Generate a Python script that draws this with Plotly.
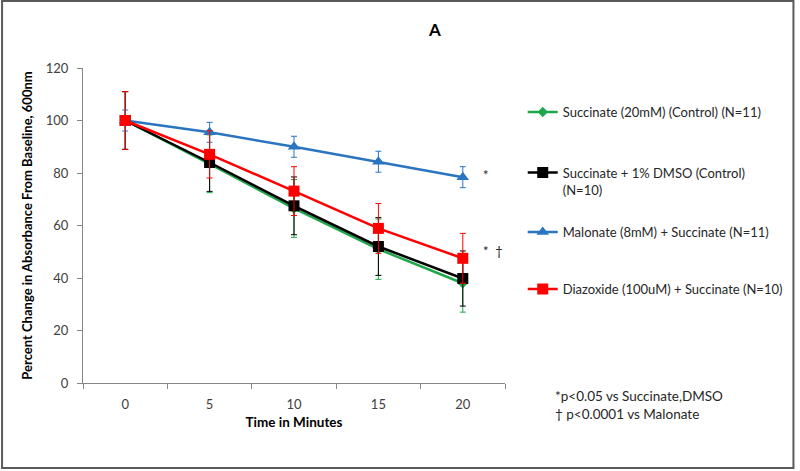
import plotly.graph_objects as go

# time points (minutes)
minutes = [0, 5, 10, 15, 20]

# series values
succinate = [100, 83.5, 66.5, 51, 38]
succinate_err = [11, 11, 11, 11.5, 11]
dmso = [100, 84, 67.5, 52, 39.8]
dmso_err = [11, 11, 11, 11, 10.5]
malonate = [100, 95.5, 90, 84.3, 78.4]
malonate_err = [4, 3.8, 4, 4, 4]
diazoxide = [100, 87.1, 73.1, 58.9, 47.5]
diazoxide_err = [11, 9, 9.3, 9.5, 9.5]

names = [
    "Succinate (20mM) (Control) (N=11)",
    "Succinate + 1% DMSO (Control)<br>(N=10)",
    "Malonate (8mM) + Succinate (N=11)",
    "Diazoxide (100uM) + Succinate (N=10)",
]
colors = ["#1fa64a", "#000000", "#2a74c0", "#ff0000"]
symbols = ["diamond", "square", "triangle-up", "square"]
msizes = [8, 11, 11, 11]

FONT = "Lato, 'Open Sans', sans-serif"

fig = go.Figure()

series = [
    (succinate, succinate_err),
    (dmso, dmso_err),
    (malonate, malonate_err),
    (diazoxide, diazoxide_err),
]
legends = ["legend", "legend2", "legend3", "legend4"]

for i, (vals, err) in enumerate(series):
    fig.add_trace(
        go.Scatter(
            x=minutes,
            y=vals,
            name=names[i],
            mode="lines+markers",
            line=dict(color=colors[i], width=2.5),
            marker=dict(symbol=symbols[i], size=msizes[i], color=colors[i]),
            error_y=dict(
                type="data",
                array=err,
                visible=True,
                color=colors[i],
                thickness=1,
                width=3,
            ),
            legend=legends[i],
        )
    )

# legend positions (paper coords), one legend per series
leg_y = [0.86, 0.641, 0.479, 0.298]
legend_common = dict(
    x=1.042,
    xanchor="left",
    yanchor="middle",
    bgcolor="rgba(0,0,0,0)",
    font=dict(family=FONT, size=13, color="#262626"),
    valign="top",
    itemwidth=30,
)
for key, ly in zip(legends, leg_y):
    fig.update_layout({key: dict(y=ly, **legend_common)})

# significance markers
fig.add_annotation(x=21.06, y=79.2, text="*", showarrow=False, xanchor="left",
                   font=dict(family=FONT, size=13, color="#262626"))
fig.add_annotation(x=21.06, y=50.3, text="*  \u2020", showarrow=False, xanchor="left",
                   font=dict(family=FONT, size=13, color="#262626"))

# footnote
fig.add_annotation(
    x=(556 - 82.5) / 425, y=(383 - 405) / 315, xref="paper", yref="paper",
    text="*p<0.05 vs Succinate,DMSO<br>\u2020 p<0.0001 vs Malonate",
    showarrow=False, xanchor="left", yanchor="middle", align="left",
    font=dict(family=FONT, size=13.5, color="#262626"),
)

# title
fig.add_annotation(
    x=(437 - 82.5) / 425, y=(383 - 30) / 315, xref="paper", yref="paper",
    text="<b>A</b>", showarrow=False, xanchor="center", yanchor="middle",
    font=dict(family=FONT, size=17, color="#000000"),
)

# outer frame
fig.add_shape(
    type="rect", xref="paper", yref="paper",
    x0=(1 - 82.5) / 425, x1=(798 - 82.5) / 425,
    y0=(383 - 468) / 315, y1=(383 - 1) / 315,
    line=dict(color="#5a5a5a", width=2),
)

fig.update_xaxes(
    range=[-2.5, 22.5],
    tickvals=minutes,
    ticktext=[str(m) for m in minutes],
    ticks="",
    ticklabelstandoff=9,
    showline=True,
    linecolor="#868686",
    linewidth=1,
    showgrid=False,
    zeroline=False,
    tickfont=dict(family=FONT, size=13, color="#404040"),
    minor=dict(tick0=2.5, dtick=5, ticks="outside", ticklen=5, tickcolor="#868686", showgrid=False),
    title=dict(text="<b>Time in Minutes</b>", font=dict(family=FONT, size=13.5, color="#000000"), standoff=6),
)
fig.update_yaxes(
    range=[0, 120],
    tickvals=[0, 20, 40, 60, 80, 100, 120],
    ticks="outside",
    ticklen=5,
    tickcolor="#868686",
    ticklabelstandoff=6,
    showline=True,
    linecolor="#868686",
    linewidth=1,
    showgrid=False,
    zeroline=False,
    tickfont=dict(family=FONT, size=13, color="#404040"),
    title=dict(text="<b>Percent Change in Absorbance From Baseline, 600nm</b>",
               font=dict(family=FONT, size=13, color="#000000"), standoff=10),
)

fig.update_layout(
    width=800,
    height=471,
    margin=dict(l=82.5, r=292.5, t=68, b=88),
    plot_bgcolor="white",
    paper_bgcolor="white",
    showlegend=True,
)

fig.write_html(
    "out.html",
    config={"displayModeBar": False},
    post_script="document.body.style.margin='0';document.body.style.overflow='hidden';",
)
